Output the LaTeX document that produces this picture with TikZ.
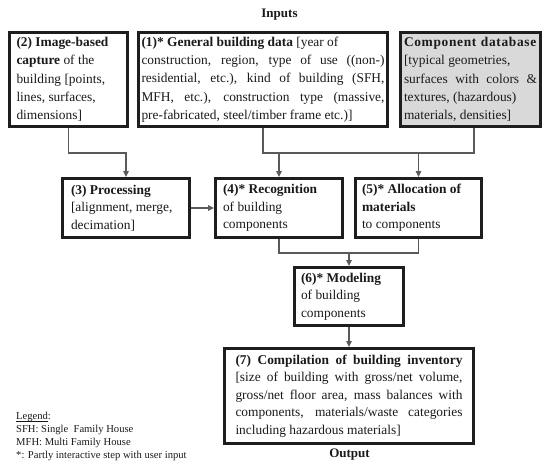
\documentclass[tikz,border=0pt]{standalone}
\usepackage{fontspec}
\setmainfont{Liberation Serif}
\usetikzlibrary{arrows.meta,calc}

\definecolor{framecol}{HTML}{1E1E1E}
\definecolor{linkcol}{HTML}{5A5A5A}
\definecolor{dbfill}{HTML}{D9D9D9}
\definecolor{inkcol}{HTML}{1A1A1A}

\tikzset{
  box/.style={draw=framecol, line width=2.6pt, fill=white, inner sep=0pt,
    align=justify, text=inkcol, font=\fontsize{13.4}{17.5}\selectfont},
  toprow/.style={box, font=\fontsize{13.4}{18.3}\selectfont},
  link/.style={draw=linkcol, line width=1.1pt},
  linkarrow/.style={link, -{Triangle[length=6pt,width=5.5pt]}},
  heading/.style={font=\fontsize{13}{15}\selectfont\bfseries, text=inkcol, inner sep=0pt}
}

\begin{document}
\begin{tikzpicture}[x=1pt,y=-1pt]
\useasboundingbox (0,0) rectangle (544,466);

\node[heading] (inputs) at (279.5,15) {Inputs};

% input row
\node[toprow, minimum width=118.4pt, minimum height=94.4pt, text width=104pt]
  (capture) at (68.5,79.5)
  {\textbf{(2) Image-based}\newline \textbf{capture} of the\newline building [points,\newline lines, surfaces,\newline dimensions]};

\node[toprow, minimum width=249.4pt, minimum height=94.4pt, text width=243pt]
  (general) at (263,79.5)
  {\textbf{(1)* General building data} [year of\newline construction, region, type of use ((non-)\linebreak{} residential, etc.), kind of building (SFH,\linebreak{} MFH, etc.), construction type (massive,\linebreak{} pre-fabricated, steel/timber frame etc.)]};

\node[toprow, fill=dbfill, minimum width=140.4pt, minimum height=94.4pt, text width=133pt]
  (database) at (470.5,79.5)
  {\textbf{\addfontfeature{LetterSpace=5}Component database}\linebreak{} [typical geometries,\newline surfaces with colors \&\linebreak{} textures, (hazardous)\newline materials, densities]};

% processing row
\node[box, minimum width=127.4pt, minimum height=59.4pt, text width=110pt]
  (processing) at (126,208)
  {\textbf{(3) Processing}\newline{} [alignment, merge,\newline decimation]};

\node[box, minimum width=127.4pt, minimum height=59.4pt, text width=112pt]
  (recognition) at (279,208)
  {\textbf{(4)* Recognition}\newline of building\newline components};

\node[box, minimum width=126.4pt, minimum height=59.4pt, text width=113pt]
  (allocation) at (418.5,208)
  {\textbf{(5)* Allocation of}\newline \textbf{materials}\newline to components};

\node[box, minimum width=109.4pt, minimum height=58.4pt, text width=96pt]
  (modeling) at (349,296.5)
  {\textbf{(6)* Modeling}\newline of building\newline components};

\node[box, minimum width=249.4pt, minimum height=95.4pt, text width=227pt]
  (inventory) at (349,396)
  {\textbf{(7) Compilation of building inventory}\linebreak{} [size of building with gross/net volume,\linebreak{} gross/net floor area, mass balances with\linebreak{} components, materials/waste categories\linebreak{} including hazardous materials]};

\node[heading] (output) at (349.5,455) {Output};

% legend
\node[anchor=north west, inner sep=0pt, align=left, text=inkcol,
      font=\fontsize{10.6}{13}\selectfont] (legend) at (16,414.5)
  {\underline{\smash{Legend}}:\\ SFH: Single\ \ Family House\\ MFH: Multi Family House\\ *: Partly interactive step with user input};

% bus lines
\coordinate (upperbus) at (0,153);
\coordinate (lowerbus) at (0,253);
\coordinate (dbfoot) at ([xshift=3.5pt]database.south);

\draw[linkarrow] (capture.south) -- (capture.south |- upperbus) -| (processing.north);
\draw[link] (general.south) -- (general.south |- upperbus) -- (dbfoot |- upperbus) -- (dbfoot);
\draw[linkarrow] (recognition.north |- upperbus) -- (recognition.north);
\draw[linkarrow] (allocation.north |- upperbus) -- (allocation.north);
\draw[linkarrow] (processing.east) -- (recognition.west);
\draw[link] (recognition.south) -- (recognition.south |- lowerbus) -- (allocation.south |- lowerbus) -- (allocation.south);
\draw[linkarrow] (modeling.north |- lowerbus) -- (modeling.north);
\draw[linkarrow] (modeling.south) -- (inventory.north);
\end{tikzpicture}
\end{document}
